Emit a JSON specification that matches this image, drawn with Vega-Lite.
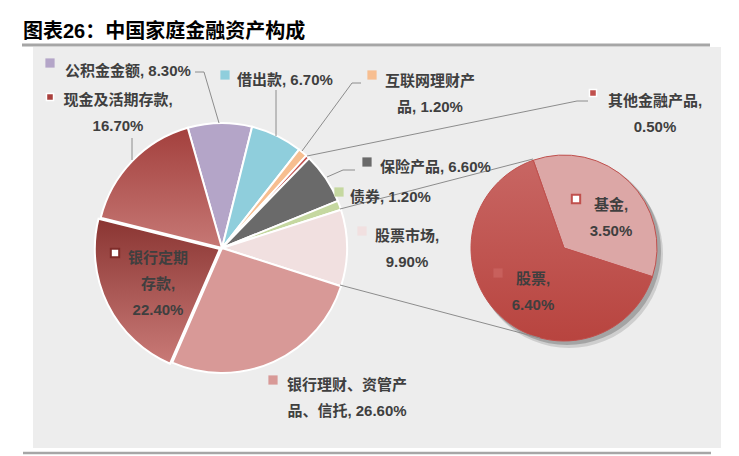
{
  "$schema": "https://vega.github.io/schema/vega-lite/v6.json",
  "width": 739,
  "height": 456,
  "padding": 0,
  "autosize": {"type": "none"},
  "background": "white",
  "config": {
    "view": {"stroke": null},
    "text": {"font": "Liberation Sans, Noto Sans CJK SC"}
  },
  "datasets": {
    "main": [
      {"name": "公积金金额", "value": 8.3},
      {"name": "借出款", "value": 6.7},
      {"name": "互联网理财产品", "value": 1.2},
      {"name": "其他金融产品", "value": 0.5},
      {"name": "保险产品", "value": 6.6},
      {"name": "债券", "value": 1.2},
      {"name": "股票市场", "value": 9.9},
      {"name": "银行理财、资管产品、信托", "value": 26.6},
      {"name": "银行定期存款", "value": 22.4},
      {"name": "现金及活期存款", "value": 16.7}
    ],
    "sub": [
      {"name": "基金", "value": 3.5},
      {"name": "股票", "value": 6.4}
    ],
    "title": [{"t": "图表26：中国家庭金融资产构成"}],
    "labels_left": [
      {"t": "公积金金额, 8.30%", "x": 65, "y": 71},
      {"t": "借出款, 6.70%", "x": 237, "y": 80},
      {"t": "保险产品, 6.60%", "x": 380, "y": 167},
      {"t": "债券, 1.20%", "x": 350, "y": 197}
    ],
    "labels_center": [
      {"t": ["现金及活期存款,", "16.70%"], "x": 118, "y": 100},
      {"t": ["互联网理财产", "品, 1.20%"], "x": 430, "y": 81},
      {"t": ["其他金融产品,", "0.50%"], "x": 655, "y": 101},
      {"t": ["股票市场,", "9.90%"], "x": 407, "y": 236},
      {"t": ["银行理财、资管产", "品、信托, 26.60%"], "x": 347, "y": 385},
      {"t": ["银行定期", "存款,", "22.40%"], "x": 158, "y": 258},
      {"t": ["基金,", "3.50%"], "x": 611, "y": 205},
      {"t": ["股票,", "6.40%"], "x": 533, "y": 279}
    ],
    "markers": [
      {"name": "公积金金额", "x": 50, "y": 63},
      {"name": "借出款", "x": 225, "y": 75},
      {"name": "互联网理财产品", "x": 372, "y": 75},
      {"name": "保险产品", "x": 367, "y": 162},
      {"name": "债券", "x": 339, "y": 192},
      {"name": "股票市场", "x": 362, "y": 231},
      {"name": "银行理财、资管产品、信托", "x": 273, "y": 380},
      {"name": "股票", "x": 498, "y": 273}
    ],
    "markers_small": [
      {"name": "其他金融产品", "x": 593, "y": 93},
      {"name": "现金及活期存款", "x": 50, "y": 97}
    ],
    "markers_outline": [
      {"name": "银行定期存款", "x": 115, "y": 253},
      {"name": "基金", "x": 576, "y": 199}
    ],
    "leaders": [
      {"x": 195, "y": 72, "x2": 204, "y2": 72},
      {"x": 204, "y": 72, "x2": 219, "y2": 123},
      {"x": 276, "y": 90, "x2": 276, "y2": 136},
      {"x": 361, "y": 83, "x2": 352, "y2": 83},
      {"x": 352, "y": 83, "x2": 302, "y2": 151},
      {"x": 588, "y": 101, "x2": 577, "y2": 101},
      {"x": 577, "y": 101, "x2": 307, "y2": 156},
      {"x": 355, "y": 170, "x2": 343, "y2": 170},
      {"x": 343, "y": 170, "x2": 327, "y2": 177},
      {"x": 132, "y": 138, "x2": 132, "y2": 160},
      {"x": 340, "y": 209, "x2": 533, "y2": 159},
      {"x": 340, "y": 285, "x2": 540, "y2": 338}
    ]
  },
  "layer": [
    {
      "data": {"values": [{}]},
      "mark": {"type": "rect", "fill": "#ededed"},
      "encoding": {
        "x": {"datum": 33, "type": "quantitative", "scale": {"domain": [0, 739], "nice": false, "zero": false}, "axis": null},
        "x2": {"datum": 721},
        "y": {"datum": 47, "type": "quantitative", "scale": {"domain": [0, 456], "nice": false, "zero": false, "reverse": true}, "axis": null},
        "y2": {"datum": 448}
      }
    },
    {
      "data": {"values": [{}]},
      "mark": {"type": "rule", "stroke": "#a6a6a6", "strokeWidth": 3},
      "encoding": {
        "x": {"datum": 22, "type": "quantitative"},
        "x2": {"datum": 710},
        "y": {"datum": 45, "type": "quantitative"}
      }
    },
    {
      "data": {"values": [{}]},
      "mark": {"type": "rule", "stroke": "#a6a6a6", "strokeWidth": 2.5},
      "encoding": {
        "x": {"datum": 23, "type": "quantitative"},
        "x2": {"datum": 711},
        "y": {"datum": 453, "type": "quantitative"}
      }
    },
    {
      "data": {"name": "title"},
      "mark": {"type": "text", "align": "left", "baseline": "middle", "fontSize": 20, "fontWeight": "bold", "color": "#000000"},
      "encoding": {
        "x": {"datum": 23, "type": "quantitative"},
        "y": {"datum": 32, "type": "quantitative"},
        "text": {"field": "t"}
      }
    },
    {
      "data": {"name": "main"},
      "transform": [
        {"window": [{"op": "row_number", "as": "idx"}]},
        {"stack": "value", "groupby": [], "sort": [{"field": "idx", "order": "ascending"}], "as": ["v0", "v1"]},
        {"filter": "datum.name != '银行定期存款' && datum.name != '现金及活期存款'"}
      ],
      "mark": {"type": "arc", "outerRadius": 125, "stroke": "white", "strokeWidth": 2},
      "encoding": {
        "x": {"datum": 222, "type": "quantitative"},
        "y": {"datum": 248, "type": "quantitative"},
        "theta": {"field": "v0", "type": "quantitative", "stack": null, "scale": {"domain": [0, 100.1], "range": [-0.2777, 6.0055]}},
        "theta2": {"field": "v1"},
        "color": {
          "field": "name",
          "type": "nominal",
          "legend": null,
          "scale": {
            "domain": ["公积金金额", "借出款", "互联网理财产品", "其他金融产品", "保险产品", "债券", "股票市场", "银行理财、资管产品、信托", "银行定期存款", "现金及活期存款", "基金", "股票"],
            "range": ["#b4a5c8", "#8fcedc", "#f7be90", "#c0504d", "#6a6a6a", "#c5d8a0", "#f1e0e0", "#d89997", "#a9504d", "#b75a57", "#dca7a6", "#c8605c"]
          }
        }
      }
    },
    {
      "data": {"name": "main"},
      "transform": [
        {"window": [{"op": "row_number", "as": "idx"}]},
        {"stack": "value", "groupby": [], "sort": [{"field": "idx", "order": "ascending"}], "as": ["v0", "v1"]},
        {"filter": "datum.name == '现金及活期存款'"}
      ],
      "mark": {
        "type": "arc", "outerRadius": 125, "stroke": "white", "strokeWidth": 2,
        "fill": {"gradient": "linear", "x1": 0, "y1": 0, "x2": 0, "y2": 1,
          "stops": [{"offset": 0, "color": "#a3403d"}, {"offset": 1, "color": "#c67875"}]}
      },
      "encoding": {
        "x": {"datum": 222, "type": "quantitative"},
        "y": {"datum": 248, "type": "quantitative"},
        "theta": {"field": "v0", "type": "quantitative", "stack": null, "scale": {"domain": [0, 100.1], "range": [-0.2777, 6.0055]}},
        "theta2": {"field": "v1"}
      }
    },
    {
      "data": {"name": "main"},
      "transform": [
        {"window": [{"op": "row_number", "as": "idx"}]},
        {"stack": "value", "groupby": [], "sort": [{"field": "idx", "order": "ascending"}], "as": ["v0", "v1"]},
        {"filter": "datum.name == '银行定期存款'"}
      ],
      "mark": {
        "type": "arc", "outerRadius": 125, "stroke": "white", "strokeWidth": 2,
        "fill": {"gradient": "linear", "x1": 0, "y1": 0, "x2": 0, "y2": 1,
          "stops": [{"offset": 0, "color": "#8a3532"}, {"offset": 1, "color": "#c97a77"}]}
      },
      "encoding": {
        "x": {"datum": 219.8, "type": "quantitative"},
        "y": {"datum": 249.1, "type": "quantitative"},
        "theta": {"field": "v0", "type": "quantitative", "stack": null, "scale": {"domain": [0, 100.1], "range": [-0.2777, 6.0055]}},
        "theta2": {"field": "v1"}
      }
    },
    {
      "data": {"values": [{}]},
      "mark": {"type": "arc", "outerRadius": 94, "theta": 0, "theta2": 6.2832, "fill": "#000000", "opacity": 0.13},
      "encoding": {
        "x": {"datum": 569, "type": "quantitative"},
        "y": {"datum": 254, "type": "quantitative"}
      }
    },
    {
      "data": {"values": [{}]},
      "mark": {"type": "arc", "outerRadius": 94, "theta": 0, "theta2": 6.2832, "fill": "#000000", "opacity": 0.2},
      "encoding": {
        "x": {"datum": 567, "type": "quantitative"},
        "y": {"datum": 251, "type": "quantitative"}
      }
    },
    {
      "data": {"name": "sub"},
      "transform": [
        {"window": [{"op": "row_number", "as": "idx"}]},
        {"stack": "value", "groupby": [], "sort": [{"field": "idx", "order": "ascending"}], "as": ["v0", "v1"]},
        {"filter": "datum.name == '基金'"}
      ],
      "mark": {"type": "arc", "outerRadius": 93, "stroke": "#c0504d", "strokeWidth": 1, "fill": "#dca7a6"},
      "encoding": {
        "x": {"datum": 564, "type": "quantitative"},
        "y": {"datum": 248, "type": "quantitative"},
        "theta": {"field": "v0", "type": "quantitative", "stack": null, "scale": {"domain": [0, 9.9], "range": [-0.337, 5.946]}},
        "theta2": {"field": "v1"}
      }
    },
    {
      "data": {"name": "sub"},
      "transform": [
        {"window": [{"op": "row_number", "as": "idx"}]},
        {"stack": "value", "groupby": [], "sort": [{"field": "idx", "order": "ascending"}], "as": ["v0", "v1"]},
        {"filter": "datum.name == '股票'"}
      ],
      "mark": {
        "type": "arc", "outerRadius": 93, "stroke": "#c0504d", "strokeWidth": 1,
        "fill": {"gradient": "linear", "x1": 0, "y1": 0, "x2": 0, "y2": 1,
          "stops": [{"offset": 0, "color": "#c86663"}, {"offset": 1, "color": "#b8443f"}]}
      },
      "encoding": {
        "x": {"datum": 564, "type": "quantitative"},
        "y": {"datum": 248, "type": "quantitative"},
        "theta": {"field": "v0", "type": "quantitative", "stack": null, "scale": {"domain": [0, 9.9], "range": [-0.337, 5.946]}},
        "theta2": {"field": "v1"}
      }
    },
    {
      "data": {"name": "leaders"},
      "mark": {"type": "rule", "stroke": "#8c8c8c", "strokeWidth": 1},
      "encoding": {
        "x": {"field": "x", "type": "quantitative"},
        "y": {"field": "y", "type": "quantitative"},
        "x2": {"field": "x2"},
        "y2": {"field": "y2"}
      }
    },
    {
      "data": {"name": "markers"},
      "mark": {"type": "point", "shape": "square", "filled": true, "size": 85, "opacity": 1},
      "encoding": {
        "x": {"field": "x", "type": "quantitative"},
        "y": {"field": "y", "type": "quantitative"},
        "color": {"field": "name", "type": "nominal", "legend": null}
      }
    },
    {
      "data": {"name": "markers_small"},
      "mark": {"type": "point", "shape": "square", "filled": true, "size": 50, "stroke": "white", "strokeWidth": 1.5, "opacity": 1},
      "encoding": {
        "x": {"field": "x", "type": "quantitative"},
        "y": {"field": "y", "type": "quantitative"},
        "fill": {"field": "name", "type": "nominal", "legend": null,
          "scale": {"domain": ["其他金融产品", "现金及活期存款"], "range": ["#c0504d", "#a9403d"]}}
      }
    },
    {
      "data": {"name": "markers_outline"},
      "mark": {"type": "point", "shape": "square", "filled": false, "size": 70, "fill": "white", "strokeWidth": 2, "opacity": 1},
      "encoding": {
        "x": {"field": "x", "type": "quantitative"},
        "y": {"field": "y", "type": "quantitative"},
        "stroke": {"field": "name", "type": "nominal", "legend": null,
          "scale": {"domain": ["银行定期存款", "基金"], "range": ["#7f2c2a", "#c0504d"]}}
      }
    },
    {
      "data": {"name": "labels_left"},
      "mark": {"type": "text", "align": "left", "baseline": "middle", "fontSize": 15, "fontWeight": "bold", "color": "#3f3f3f"},
      "encoding": {
        "x": {"field": "x", "type": "quantitative"},
        "y": {"field": "y", "type": "quantitative"},
        "text": {"field": "t"}
      }
    },
    {
      "data": {"name": "labels_center"},
      "mark": {"type": "text", "align": "center", "baseline": "middle", "fontSize": 15, "fontWeight": "bold", "lineHeight": 26, "color": "#3f3f3f"},
      "encoding": {
        "x": {"field": "x", "type": "quantitative"},
        "y": {"field": "y", "type": "quantitative"},
        "text": {"field": "t"}
      }
    }
  ],
  "resolve": {"scale": {"theta": "independent"}}
}
